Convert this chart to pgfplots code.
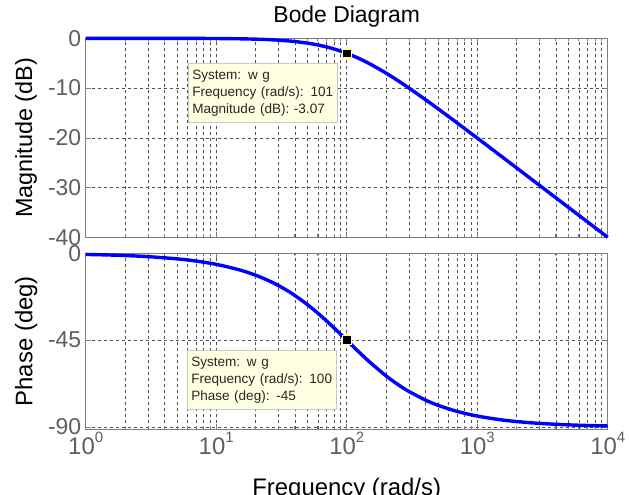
\documentclass[border=0pt]{standalone}
\usepackage{fontspec}
\setmainfont{Liberation Sans}
\usepackage{pgfplots}
\usepackage{pgfplotstable}
\pgfplotsset{compat=1.18}
\definecolor{tipfill}{RGB}{255,255,225}
\definecolor{tipedge}{RGB}{200,200,190}
\definecolor{tickgray}{RGB}{95,95,95}
\definecolor{framegray}{RGB}{125,125,125}
\definecolor{gridgray}{RGB}{80,80,80}

% first order low pass, corner at 100 rad/s
\pgfplotstableread{
w      mag       phase
1      -0.0004   -0.573
1.5    -0.0010   -0.859
2      -0.0017   -1.146
3      -0.0039   -1.718
5      -0.0108   -2.862
7      -0.0212   -4.004
10     -0.0432   -5.711
15     -0.0966   -8.531
20     -0.1703   -11.310
25     -0.2633   -14.036
30     -0.3743   -16.699
35     -0.5019   -19.290
40     -0.6446   -21.801
50     -0.9691   -26.565
60     -1.3354   -30.964
70     -1.7319   -34.992
80     -2.1484   -38.660
90     -2.5768   -41.987
100    -3.0103   -45.000
120    -3.8739   -50.194
150    -5.1188   -56.310
200    -6.9897   -63.435
250    -8.6034   -68.199
300    -10.0000  -71.565
400    -12.3045  -75.964
500    -14.1497  -78.690
700    -16.9897  -81.870
1000   -20.0432  -84.289
1500   -23.5411  -86.186
2000   -26.0314  -87.138
3000   -29.5472  -88.091
5000   -33.9811  -88.854
7000   -36.9028  -89.182
10000  -40.0004  -89.427
}\bode

\newcommand{\tp}[1]{10\raisebox{12bp}{\fontsize{15}{15}\selectfont #1}}

\tikzset{
  tip/.style={draw=tipedge, fill=tipfill, line width=0.6bp, anchor=north west,
    font=\fontsize{13.6}{17}\selectfont, text=black!85, align=left,
    text width=141bp, minimum height=59bp, inner xsep=4bp},
}

\begin{document}
\begin{tikzpicture}

% magnitude
\begin{axis}[
  scale only axis, width=522bp,
  xmode=log, xmin=1, xmax=10000,
  xtick={1,10,100,1000,10000},
  axis line style={framegray, line width=0.8bp},
  tick style={framegray, line width=0.6bp},
  tick align=inside,
  major tick length=5bp, minor tick length=3bp,
  xmajorgrids, xminorgrids, ymajorgrids,
  major grid style={gridgray, dash pattern=on 3bp off 3bp, line width=0.5bp},
  minor grid style={gridgray, dash pattern=on 3bp off 3bp, line width=0.5bp},
  /pgf/number format/assume math mode=true,
  yticklabel style={font=\fontsize{23}{23}\selectfont, text=tickgray, xshift=-1bp},
  clip=false,
  at={(85.7bp,-237.3bp)}, anchor=south west,
  height=199bp,
  ymin=-40, ymax=0,
  ytick={-40,-30,-20,-10,0},
  xticklabels={},
  ylabel={Magnitude (dB)},
  ylabel style={at={(axis description cs:-0.114,0.5)}, rotate=0,
    anchor=center, font=\fontsize{23.5}{23.5}\selectfont},
]
\addplot[blue, line width=3.4bp, smooth] table[x=w, y=mag] {\bode};
\addplot[only marks, mark=square*, mark size=4.5bp,
  mark options={fill=black, draw=tipfill!80!yellow, line width=1.2bp}]
  coordinates {(101,-3.07)};
\node[tip] at (axis cs:6.08,-4.96)
  {System: w g\\Frequency (rad/s): 101\\Magnitude (dB): -3.07};
\end{axis}

% phase
\begin{axis}[
  scale only axis, width=522bp,
  xmode=log, xmin=1, xmax=10000,
  xtick={1,10,100,1000,10000},
  axis line style={framegray, line width=0.8bp},
  tick style={framegray, line width=0.6bp},
  tick align=inside,
  major tick length=5bp, minor tick length=3bp,
  xmajorgrids, xminorgrids, ymajorgrids,
  major grid style={gridgray, dash pattern=on 3bp off 3bp, line width=0.5bp},
  minor grid style={gridgray, dash pattern=on 3bp off 3bp, line width=0.5bp},
  /pgf/number format/assume math mode=true,
  yticklabel style={font=\fontsize{23}{23}\selectfont, text=tickgray, xshift=-1bp},
  xticklabel style={font=\fontsize{24}{24}\selectfont, text=tickgray},
  clip=false,
  at={(85.7bp,-429bp)}, anchor=south west,
  height=175.7bp,
  ymin=-91, ymax=0,
  ytick={-90,-45,0},
  xticklabels={\tp{0},\tp{1},\tp{2},\tp{3},\tp{4}},
  ylabel={Phase (deg)},
  ylabel style={at={(axis description cs:-0.114,0.5)}, rotate=0,
    anchor=center, font=\fontsize{24}{24}\selectfont},
  xlabel={Frequency (rad/s)},
  xlabel style={at={(axis description cs:0.5,-0.279)}, anchor=north,
    inner sep=0pt, font=\fontsize{24}{24}\selectfont},
]
\addplot[blue, line width=3.4bp, smooth] table[x=w, y=phase] {\bode};
\addplot[only marks, mark=square*, mark size=4.5bp,
  mark options={fill=black, draw=tipfill!80!yellow, line width=1.2bp}]
  coordinates {(100,-45)};
\node[tip] at (axis cs:5.97,-50.1)
  {System: w g\\Frequency (rad/s): 100\\Phase (deg): -45};
\end{axis}

\node[font=\fontsize{23}{23}\selectfont] at (346.7bp,-17bp) {Bode Diagram};

\pgfresetboundingbox
\useasboundingbox (0,0) rectangle (629bp,-495bp);
\end{tikzpicture}
\end{document}
